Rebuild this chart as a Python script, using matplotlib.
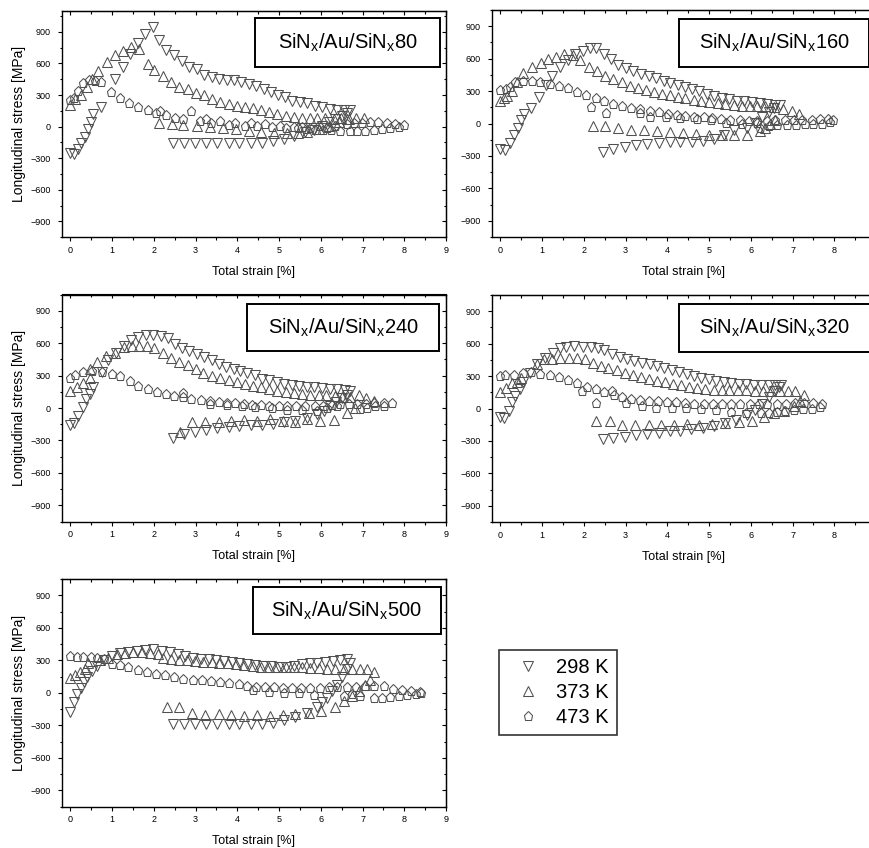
import numpy as np
import matplotlib.pyplot as plt
from matplotlib.patches import Rectangle

plt.rcParams['font.family'] = ['Liberation Sans', 'DejaVu Sans']
plt.rcParams['mathtext.fontset'] = 'custom'
plt.rcParams['mathtext.rm'] = 'Liberation Sans'

# (total strain [%], longitudinal stress [MPa])
s80_298 = [(0.0,-250),(0.09,-255),(0.18,-215),(0.26,-160),(0.34,-95),(0.42,-25),(0.49,45),(0.55,117),(0.73,185),
           (1.07,450),(1.27,564),(1.43,690),(1.61,789),(1.8,879),(1.98,949),(2.13,825),(2.29,724),(2.49,678),
           (2.67,625),(2.85,570),(3.03,548),(3.2,493),(3.4,471),(3.57,456),(3.75,447),(3.93,440),(4.08,428),
           (4.27,406),(4.45,388),(4.63,357),(4.8,333),(4.97,302),(5.15,277),(5.32,246),(5.5,234),(5.68,222),
           (5.85,200),(6.03,185),(6.21,172),(6.39,157),(6.55,157),(6.69,157),
           (2.45,-154),(2.73,-154),(2.99,-154),(3.25,-154),(3.52,-154),(3.79,-160),(4.05,-154),(4.32,-154),
           (4.59,-151),(4.85,-139),(5.11,-120),(5.37,-92),(5.63,-52),(5.83,-31),(6.03,9),(6.19,40),(6.35,71),
           (6.51,102),(6.63,132)]
s80_373 = [(0.0,209),(0.12,260),(0.25,300),(0.4,380),(0.52,450),(0.67,530),(0.87,610),(1.07,675),(1.26,718),
           (1.45,752),(1.65,740),(1.85,595),(2.01,539),(2.21,481),(2.41,425),(2.61,379),(2.81,357),(3.01,317),
           (3.2,296),(3.4,265),(3.59,234),(3.79,216),(3.99,200),(4.19,185),(4.37,179),(4.57,154),(4.77,142),
           (4.96,117),(5.16,102),(5.35,92),(5.54,86),(5.73,83),(5.92,80),(6.11,80),(6.31,77),(6.48,86),
           (6.67,74),(6.85,80),(7.03,86),
           (2.12,31),(2.43,25),(2.71,12),(3.03,9),(3.35,-6),(3.65,-12),(3.96,-22),(4.27,-37),(4.57,-52),
           (4.88,-62),(5.19,-62),(5.45,-60),(5.67,-52),(5.95,-22),(6.19,9),(6.43,40),(6.63,71)]
s80_473 = [(0.0,250),(0.08,268),(0.18,340),(0.3,410),(0.45,440),(0.6,430),(0.73,419),(0.97,330),(1.19,271),
           (1.41,225),(1.63,188),(1.85,154),(2.05,132),(2.15,148),(2.3,111),(2.5,80),(2.69,71),(2.89,145),
           (3.1,49),(3.26,71),(3.37,31),(3.59,49),(3.8,15),(3.95,37),(4.19,9),(4.33,31),(4.47,6),(4.67,25),
           (4.83,-6),(5.03,9),(5.17,-12),(5.36,-6),(5.55,0),(5.75,-12),(5.95,9),(6.15,-15),(6.35,3),(6.63,25),
           (6.79,34),(6.99,34),(7.19,40),(7.38,46),(7.59,37),(7.79,25),(7.99,18),
           (5.45,-15),(5.65,-25),(5.85,-35),(6.05,-30),(6.25,-35),(6.45,-40),
           (6.71,-46),(6.87,-46),(7.07,-37),(7.27,-31),(7.47,-25),(7.67,-15),(7.87,-6)]

s160_298 = [(0.0,-240),(0.12,-248),(0.24,-181),(0.32,-108),(0.42,-38),(0.5,29),(0.57,88),(0.73,146),(0.92,245),
            (1.1,356),(1.24,444),(1.44,526),(1.62,584),(1.8,642),(1.98,675),(2.14,695),(2.3,695),(2.49,645),
            (2.65,599),(2.83,545),(3.0,511),(3.18,482),(3.37,461),(3.55,438),(3.74,417),(3.91,394),(4.07,378),
            (4.25,356),(4.43,336),(4.59,315),(4.77,298),(4.95,277),(5.13,257),(5.31,234),(5.49,228),(5.67,210),
            (5.84,204),(6.03,199),(6.21,190),(6.39,181),(6.57,175),(6.71,169),
            (2.46,-263),(2.71,-239),(2.99,-219),(3.26,-199),(3.51,-190),(3.79,-181),(4.06,-175),(4.31,-175),
            (4.59,-169),(4.85,-161),(5.11,-140),(5.37,-111),(5.6,-58),(5.91,-44),(6.11,6),(6.27,58),(6.43,102),
            (6.55,140)]
s160_373 = [(0.0,210),(0.08,235),(0.16,257),(0.28,298),(0.4,380),(0.54,467),(0.76,526),(0.97,561),(1.13,599),
            (1.34,619),(1.53,642),(1.74,637),(1.92,590),(2.12,526),(2.32,482),(2.51,444),(2.7,409),(2.91,380),
            (3.1,350),(3.29,327),(3.49,307),(3.67,292),(3.87,277),(4.06,263),(4.25,248),(4.43,234),(4.63,219),
            (4.81,210),(5.01,199),(5.21,190),(5.39,181),(5.59,175),(5.79,166),(5.97,161),(6.16,161),(6.35,161),
            (6.55,152),(6.77,131),(6.99,117),(7.15,88),
            (2.22,-23),(2.51,-23),(2.83,-44),(3.13,-58),(3.45,-64),(3.75,-73),(4.06,-82),(4.38,-88),(4.69,-96),
            (4.99,-102),(5.31,-102),(5.6,-102),(5.91,-102),(6.23,-73),(6.35,-44),(6.47,-6),(6.59,29)]
s160_473 = [(0.0,307),(0.14,321),(0.24,336),(0.34,380),(0.54,394),(0.76,394),(0.96,385),(1.18,365),(1.4,350),
            (1.61,327),(1.84,292),(2.06,263),(2.28,234),(2.49,210),(2.71,181),(2.91,161),(3.13,146),(3.35,131),
            (3.58,117),(3.79,102),(4.01,88),(4.23,79),(4.43,73),(4.65,64),(4.87,58),(5.07,53),(5.29,44),
            (5.51,35),(5.73,29),(5.95,23),(6.16,23),(6.39,23),(6.59,29),(6.83,29),(7.03,35),(7.23,35),(7.47,35),
            (7.66,44),(7.86,44),(7.98,35),
            (2.16,152),(2.54,93),(3.35,93),(3.59,64),(3.97,58),(4.31,53),(4.71,38),(5.05,29),(5.41,9),
            (5.79,-6),(6.15,6),
            (6.23,-44),(6.43,-23),(6.63,-15),(6.87,-15),(7.09,-15),(7.31,-9),(7.5,-6),(7.7,0),(7.9,15)]

s240_298 = [(0.0,-161),(0.09,-138),(0.19,-73),(0.3,9),(0.38,82),(0.47,132),(0.55,190),(0.75,337),(0.91,445),
            (1.1,507),(1.29,571),(1.45,630),(1.63,659),(1.81,674),(1.99,674),(2.17,665),(2.35,645),(2.51,595),
            (2.68,557),(2.85,527),(3.03,498),(3.2,469),(3.39,440),(3.56,410),(3.73,381),(3.91,360),(4.07,343),
            (4.24,322),(4.43,302),(4.6,272),(4.77,255),(4.95,243),(5.12,226),(5.31,214),(5.49,205),(5.67,196),
            (5.84,190),(6.03,185),(6.21,179),(6.39,176),(6.57,167),(6.71,161),
            (2.45,-278),(2.73,-243),(2.99,-226),(3.25,-205),(3.52,-185),(3.79,-176),(4.05,-167),(4.32,-161),
            (4.59,-155),(4.85,-147),(5.11,-132),(5.39,-117),(5.67,-88),(5.91,-59),(6.07,-29),(6.23,15),
            (6.37,59),(6.51,88),(6.63,117)]
s240_373 = [(0.0,161),(0.15,196),(0.31,234),(0.46,278),(0.46,360),(0.65,425),(0.86,483),(1.07,513),(1.29,565),
            (1.47,571),(1.65,571),(1.83,571),(2.01,557),(2.21,507),(2.41,460),(2.61,425),(2.81,396),(3.01,360),
            (3.19,328),(3.39,299),(3.59,278),(3.79,258),(3.99,240),(4.19,220),(4.37,205),(4.57,190),(4.77,176),
            (4.96,161),(5.16,147),(5.35,138),(5.55,132),(5.75,123),(5.95,117),(6.13,117),(6.33,108),(6.51,103),
            (6.71,103),(6.91,117),(7.09,88),(7.27,67),
            (2.63,-226),(2.91,-126),(3.23,-126),(3.55,-126),(3.84,-117),(4.16,-108),(4.47,-117),(4.79,-103),
            (5.09,-117),(5.39,-126),(5.68,-103),(5.99,-117),(6.31,-108),(6.63,-44),(6.83,0)]
s240_473 = [(0.0,278),(0.11,308),(0.3,331),(0.51,343),(0.75,331),(0.99,316),(1.19,293),(1.43,249),(1.63,205),
            (1.85,176),(2.07,152),(2.29,132),(2.49,108),(2.7,103),(2.71,138),(2.9,79),(3.13,73),(3.34,67),
            (3.55,59),(3.75,50),(3.95,44),(4.15,38),(4.35,29),(4.56,29),(4.77,21),(4.99,21),(5.19,21),(5.41,21),
            (5.63,21),(5.85,21),(6.05,21),(6.27,29),(6.47,38),(6.67,38),(6.87,38),(7.08,38),(7.28,44),(7.51,50),
            (7.71,44),
            (3.35,38),(3.75,29),(4.11,21),(4.43,9),(4.83,0),(5.19,-15),(5.55,-21),
            (5.91,-29),(6.15,0),(6.39,15),(6.95,-9),(7.11,0),(7.31,15),(7.51,21)]

s320_298 = [(0.0,-79),(0.08,-88),(0.2,-21),(0.28,59),(0.36,117),(0.46,176),(0.54,249),(0.7,330),(0.88,410),
            (1.08,469),(1.26,513),(1.42,557),(1.58,571),(1.77,577),(1.98,571),(2.17,571),(2.33,557),(2.49,542),
            (2.67,507),(2.86,478),(3.03,454),(3.21,440),(3.39,425),(3.58,410),(3.75,396),(3.93,372),(4.11,360),
            (4.27,337),(4.46,322),(4.63,302),(4.81,284),(4.99,270),(5.17,255),(5.35,243),(5.53,234),(5.71,229),
            (5.89,226),(6.07,220),(6.24,220),(6.43,214),(6.59,214),(6.72,214),
            (2.46,-278),(2.71,-272),(2.99,-264),(3.26,-243),(3.51,-234),(3.79,-226),(4.06,-205),(4.31,-205),
            (4.57,-190),(4.85,-185),(5.11,-161),(5.39,-138),(5.65,-103),(5.91,-59),(6.11,-15),(6.27,44),
            (6.43,103),(6.55,161),(6.67,196)]
s320_373 = [(0.0,155),(0.14,190),(0.28,234),(0.4,249),(0.5,280),(0.88,410),(1.05,454),(1.24,460),(1.44,469),
            (1.64,469),(1.84,469),(2.04,454),(2.22,425),(2.41,396),(2.59,372),(2.79,352),(2.99,331),(3.18,308),
            (3.37,287),(3.57,272),(3.75,255),(3.95,243),(4.14,226),(4.33,214),(4.53,196),(4.71,190),(4.91,182),
            (5.11,173),(5.31,167),(5.49,167),(5.69,167),(5.89,167),(6.09,161),(6.29,161),(6.48,161),(6.69,161),
            (6.88,161),(7.07,161),(7.27,126),
            (2.3,-117),(2.62,-117),(2.91,-152),(3.23,-155),(3.55,-155),(3.85,-152),(4.17,-152),(4.47,-147),
            (4.77,-152),(5.07,-147),(5.39,-138),(5.71,-126),(6.03,-117),(6.32,-79),(6.55,-44),(6.79,-21),
            (7.03,21),(7.19,73)]
s320_473 = [(0.0,302),(0.12,308),(0.32,313),(0.54,331),(0.73,337),(0.96,322),(1.18,308),(1.4,293),(1.62,264),
            (1.84,234),(1.96,161),(2.08,196),(2.28,176),(2.48,155),(2.67,161),(2.73,126),(2.91,103),(3.13,88),
            (3.34,79),(3.55,73),(3.77,67),(3.99,59),(4.22,59),(4.43,50),(4.65,38),(4.87,38),(5.09,38),(5.31,38),
            (5.53,38),(5.75,38),(5.97,38),(6.19,38),(6.4,38),(6.63,38),(6.85,44),(7.07,50),(7.28,50),(7.5,50),
            (7.7,38),
            (2.3,50),(3.02,50),(3.39,21),(3.74,9),(4.11,9),(4.45,9),(4.81,-9),(5.17,-15),(5.53,-29),(5.89,-38),
            (6.24,-44),(6.43,-44),(6.63,-29),(6.83,-21),(7.03,-15),(7.25,-9),(7.47,0),(7.66,15)]

s500_298 = [(0.0,-176),(0.09,-88),(0.17,-15),(0.25,44),(0.33,103),(0.41,147),(0.51,205),(0.63,249),(0.8,300),
            (0.99,337),(1.19,366),(1.39,381),(1.59,390),(1.79,396),(1.99,401),(2.19,390),(2.39,381),(2.57,360),
            (2.75,337),(2.93,322),(3.13,313),(3.31,308),(3.49,302),(3.69,293),(3.87,284),(4.05,278),(4.24,264),
            (4.43,255),(4.61,249),(4.8,249),(4.99,243),(5.17,243),(5.36,249),(5.55,264),(5.73,272),(5.92,278),
            (6.11,284),(6.29,293),(6.47,302),(6.64,308),
            (2.45,-287),(2.73,-287),(2.99,-287),(3.25,-287),(3.52,-287),(3.79,-287),(4.05,-287),(4.32,-287),
            (4.59,-287),(4.85,-278),(5.11,-249),(5.39,-220),(5.67,-185),(5.91,-132),(6.03,-88),(6.15,-44),
            (6.27,15),(6.39,73),(6.51,147),(6.63,220),(6.71,278)]
s500_373 = [(0.0,138),(0.11,161),(0.23,190),(0.35,220),(0.43,278),(0.7,300),(0.91,322),(1.11,360),(1.31,372),
            (1.51,381),(1.71,381),(1.91,372),(2.11,360),(2.21,322),(2.41,308),(2.61,302),(2.79,302),(2.99,293),
            (3.19,287),(3.39,284),(3.57,278),(3.77,272),(3.97,264),(4.17,255),(4.37,249),(4.56,243),(4.77,243),
            (4.96,243),(5.16,243),(5.36,234),(5.55,234),(5.75,226),(5.95,226),(6.15,220),(6.35,220),(6.55,220),
            (6.75,220),(6.95,220),(7.11,220),
            (2.31,-132),(2.61,-132),(2.91,-185),(3.23,-205),(3.55,-196),(3.84,-205),(4.16,-214),(4.47,-205),
            (4.79,-214),(5.09,-205),(5.39,-196),(5.71,-185),(6.0,-167),
            (6.35,-132),(6.55,-73),(6.75,-29),(6.91,15),(7.07,73),(7.19,117),(7.28,190)]
s500_473 = [(0.0,337),(0.15,331),(0.31,331),(0.49,328),(0.65,322),(0.81,308),(0.99,264),(1.19,255),(1.39,234),
            (1.61,214),(1.83,196),(2.05,176),(2.27,161),(2.49,147),(2.71,132),(2.93,123),(3.15,117),(3.37,108),
            (3.59,97),(3.81,88),(4.03,79),(4.24,67),(4.45,50),(4.67,50),(4.88,50),(5.09,44),(5.31,44),(5.52,44),
            (5.75,44),(5.97,44),(6.19,50),(6.4,50),(6.63,50),(6.85,50),(7.07,59),(7.28,67),(7.51,59),(7.72,38),
            (7.95,29),(8.16,21),(8.37,9),
            (4.37,29),(4.75,6),(5.11,0),(5.47,0),(5.83,-21),
            (6.55,-29),(6.75,-9),(6.95,-30),(7.27,-44),(7.47,-50),(7.67,-38),(7.87,-29),(8.07,-21),(8.27,-9),
            (8.39,0)]

temps = ['298 K', '373 K', '473 K']
samples = ['80', '160', '240', '320', '500']
series = {'80': [s80_298, s80_373, s80_473],
          '160': [s160_298, s160_373, s160_473],
          '240': [s240_298, s240_373, s240_473],
          '320': [s320_298, s320_373, s320_473],
          '500': [s500_298, s500_373, s500_473]}
xticks = list(range(10))
yticks = list(range(-900, 901, 300))

markers = ['v', '^', 'p']
mk = dict(ls='none', ms=6.8, mfc='none', mec='#505050', mew=0.75)

W, H = 870., 848.
def px_rect(x0, y0, x1, y1):
    # pixel box (top-left origin) -> figure fraction
    return [x0 / W, 1 - y1 / H, (x1 - x0) / W, (y1 - y0) / H]

# axes placement (pixels), y upper limit, label box in axes fraction, left column?
layout = [(px_rect(62, 10.7, 446, 237.3), 1100, (0.503, 0.752, 0.481, 0.216), True),
          (px_rect(492, 10, 876, 237), 1000, (0.487, 0.749, 0.495, 0.211), False),
          (px_rect(62, 294.5, 446, 521.5), 1000, (0.482, 0.751, 0.500, 0.207), True),
          (px_rect(492, 295, 876, 522), 1000, (0.487, 0.749, 0.497, 0.213), False),
          (px_rect(62, 579, 446, 806.7), 1000, (0.497, 0.758, 0.490, 0.208), True)]

fig = plt.figure(figsize=(W / 100, H / 100), dpi=100)

handles = []
for name, (rect, ytop, box, left) in zip(samples, layout):
    ax = fig.add_axes(rect)
    for data, m in zip(series[name], markers):
        x, y = np.array(data).T
        h, = ax.plot(x, y, marker=m, **mk)
        if name == '80':
            handles.append(h)
    ax.set_xlim(-0.2, 9)
    ax.set_ylim(-1000, ytop)
    # the right column is cut at the picture edge, so its "9" is not shown
    ax.set_xticks(xticks, [str(t) for t in xticks] if left else [str(t) for t in xticks[:-1]] + [''])
    ax.set_xticks(np.arange(0.5, 9, 1.0), minor=True)
    ax.set_yticks(yticks)
    ax.set_yticks(np.arange(-1050, 1100, 300), minor=True)
    ax.tick_params(which='both', direction='out', labelsize=6.5, pad=3, width=0.8)
    ax.tick_params(which='major', length=3.2)
    ax.tick_params(which='minor', length=1.8)
    ax.tick_params(axis='y', pad=5)
    for s in ax.spines.values():
        s.set_linewidth(1.0)
    # inward mirror ticks on top and right
    top = ax.secondary_xaxis('top')
    top.set_xticks(xticks)
    top.set_xticks(np.arange(0.5, 9, 1.0), minor=True)
    top.tick_params(which='both', direction='in', labeltop=False, width=0.8)
    top.tick_params(which='major', length=3.2)
    top.tick_params(which='minor', length=1.8)
    right = ax.secondary_yaxis('right')
    right.set_yticks(yticks)
    right.set_yticks(np.arange(-1050, 1100, 300), minor=True)
    right.tick_params(which='both', direction='in', labelright=False, width=0.8)
    right.tick_params(which='major', length=3.2)
    right.tick_params(which='minor', length=1.8)

    ax.set_xlabel('Total strain [%]', fontsize=9, labelpad=8)
    if left:
        ax.set_ylabel('Longitudinal stress [MPa]', fontsize=10, labelpad=3)

    bx, by, bw, bh = box
    ax.add_patch(Rectangle((bx, by), bw, bh, transform=ax.transAxes,
                           fill=True, fc='white', ec='black', lw=1.4, zorder=5))
    ax.text(bx + bw / 2, by + bh / 2,
            r'SiN$_\mathrm{x}$/Au/SiN$_\mathrm{x}$' + name,
            transform=ax.transAxes, ha='center', va='center', fontsize=14.5, zorder=6)

leg = fig.legend(handles, temps, loc='upper left', bbox_to_anchor=(499 / W, 1 - 650 / H),
                 borderaxespad=0, fontsize=14.5, frameon=True, fancybox=False,
                 borderpad=0.4, labelspacing=0.3, handlelength=2.1, handletextpad=0.35,
                 markerscale=1.0)
leg.get_frame().set_edgecolor('black')
leg.get_frame().set_linewidth(1.2)

fig.savefig('out.png', dpi=100)
